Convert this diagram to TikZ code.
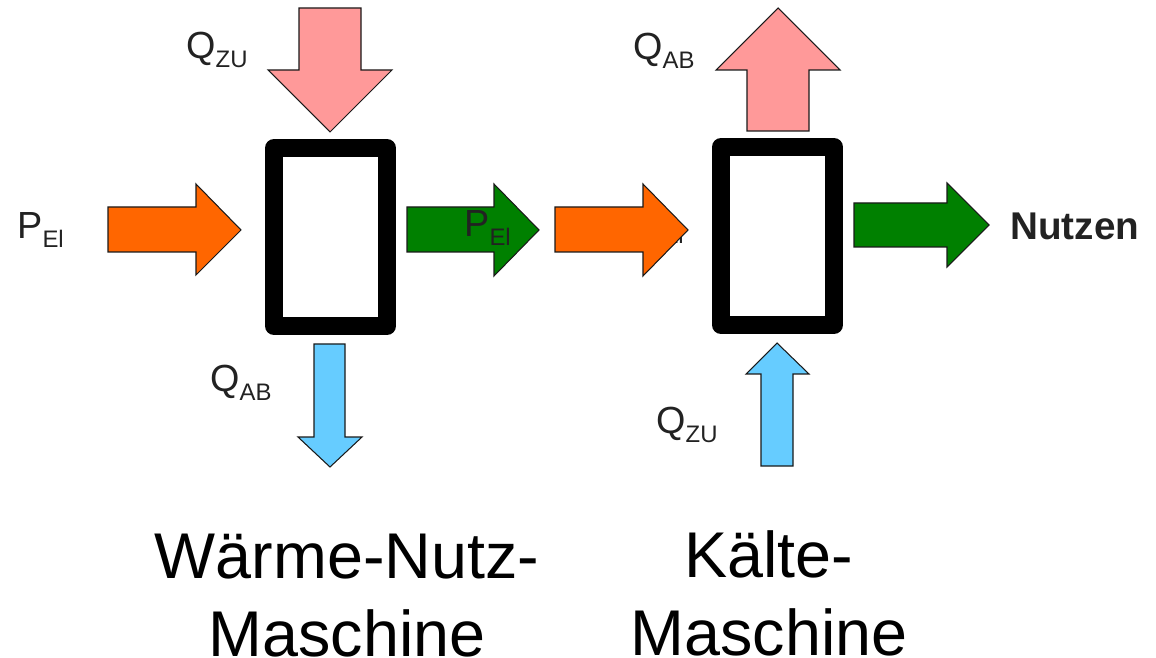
\documentclass[tikz,border=0pt]{standalone}
\usepackage{fontspec}
\setmainfont{Liberation Sans}

\definecolor{heatpink}{HTML}{FF9999}
\definecolor{powerorange}{HTML}{FF6600}
\definecolor{usegreen}{HTML}{008000}
\definecolor{coldblue}{HTML}{66CCFF}
\definecolor{labelgray}{HTML}{222222}
\definecolor{edgegray}{HTML}{1A1A1A}

% label with a lowered subscript, e.g. Q_ZU
\newcommand{\flowlabel}[2]{\fontsize{21.5}{24}\selectfont #1\raisebox{-5.1pt}{\fontsize{13.6}{15}\selectfont #2}}

\tikzset{
  blockarrow/.style={draw=edgegray, line width=0.6pt, line join=miter},
  machine/.style={draw=black, line width=10.2pt, line join=round, fill=white},
  flowtext/.style={inner sep=0pt, anchor=base west, text=labelgray},
  titletext/.style={inner sep=0pt, anchor=base, text=black, font=\fontsize{36.8}{44}\selectfont},
}

\begin{document}
\begin{tikzpicture}[x=0.02cm, y=-0.02cm]
  \useasboundingbox (0,0) rectangle (1156,658);

  % ---------- heat engine (left) ----------
  \draw[machine] (274,148) rectangle (387,326);

  % heat in from above
  \draw[blockarrow, fill=heatpink]
    (299,8) -- (361,8) -- (361,70) -- (392,70) -- (330,132) -- (268,70) -- (299,70) -- cycle;
  % electrical power in
  \draw[blockarrow, fill=powerorange]
    (108,207) -- (196,207) -- (196,184) -- (241,230) -- (196,275) -- (196,252) -- (108,252) -- cycle;
  % useful output
  \draw[blockarrow, fill=usegreen]
    (407,207) -- (494,207) -- (494,184) -- (539,230) -- (494,276) -- (494,252) -- (407,252) -- cycle;
  % heat out below
  \draw[blockarrow, fill=coldblue]
    (314,344) -- (345,344) -- (345,437) -- (362,437) -- (330,467) -- (298,437) -- (314,437) -- cycle;

  \node[flowtext] (qzuL) at (186,59)  {\flowlabel{Q}{ZU}};
  \node[flowtext] (pelL) at (17,239)  {\flowlabel{P}{El}};
  \node[flowtext] (qabL) at (210,392) {\flowlabel{Q}{AB}};

  % ---------- refrigerator (right) ----------
  \draw[machine] (721,147) rectangle (834,325);

  % label partly hidden by the power arrow
  \node[flowtext] (pelHidden) at (637,235) {\flowlabel{P}{El}};
  % electrical power in
  \draw[blockarrow, fill=powerorange]
    (555,207) -- (643,207) -- (643,184) -- (688,230) -- (643,276) -- (643,252) -- (555,252) -- cycle;
  % label over the green arrow
  \node[flowtext] (pelM) at (464,237) {\flowlabel{P}{El}};

  % heat out above
  \draw[blockarrow, fill=heatpink]
    (747,131) -- (747,70) -- (716,70) -- (778,8) -- (840,70) -- (809,70) -- (809,131) -- cycle;
  % heat in from below
  \draw[blockarrow, fill=coldblue]
    (761,466) -- (761,374) -- (746,374) -- (777,343) -- (809,374) -- (793,374) -- (793,466) -- cycle;
  % useful output
  \draw[blockarrow, fill=usegreen]
    (854,203) -- (947,203) -- (947,183) -- (989,225) -- (947,267) -- (947,247) -- (854,247) -- cycle;

  \node[flowtext] (qabR) at (633,60)  {\flowlabel{Q}{AB}};
  \node[flowtext] (qzuR) at (656,434) {\flowlabel{Q}{ZU}};
  \node[flowtext, font=\fontsize{22}{26}\selectfont\bfseries] (nutzen) at (1010,240) {Nutzen};

  % ---------- captions ----------
  \node[titletext] (capL1) at (347,578) {Wärme-Nutz-};
  \node[titletext] (capL2) at (347,656) {Maschine};
  \node[titletext] (capR1) at (769,577) {Kälte-};
  \node[titletext] (capR2) at (769,655) {Maschine};
\end{tikzpicture}
\end{document}
